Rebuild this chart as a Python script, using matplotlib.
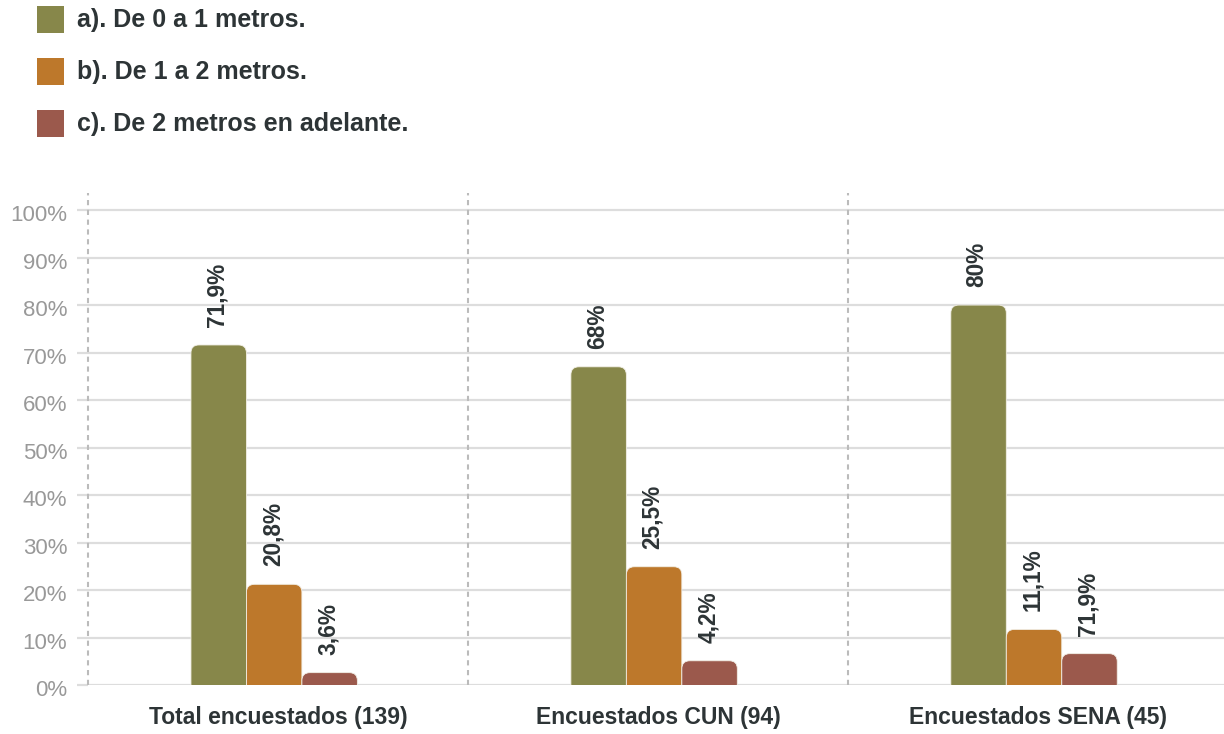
import matplotlib
matplotlib.use('Agg')
import matplotlib.pyplot as plt
from matplotlib.patches import FancyBboxPatch, Rectangle
import matplotlib.transforms as mtransforms
import numpy as np

# ---------------- data ----------------
categories = ['Total encuestados (139)', 'Encuestados CUN (94)', 'Encuestados SENA (45)']
series_names = ['a). De 0 a 1 metros.', 'b). De 1 a 2 metros.', 'c). De 2 metros en adelante.']
series_a = [71.6, 67.0, 80.0]
series_b = [21.2, 24.9, 11.7]
series_c = [2.6, 5.1, 6.6]
labels_a = ['71,9%', '68%', '80%']
labels_b = ['20,8%', '25,5%', '11,1%']
labels_c = ['3,6%', '4,2%', '71,9%']
ytick_values = [0, 10, 20, 30, 40, 50, 60, 70, 80, 90, 100]
ytick_labels = ['0%', '10%', '20%', '30%', '40%', '50%', '60%', '70%', '80%', '90%', '100%']

colors = ['#87874A', '#BD782B', '#9B594C']
text_dark = '#2D3436'
grid_color = '#DDDDDD'

plt.rcParams['font.family'] = ['Liberation Sans', 'DejaVu Sans']

W, H = 1224, 734
fig = plt.figure(figsize=(W / 100, H / 100), dpi=100)
ax = fig.add_axes([88 / W, 49 / H, (W - 88) / W, 492 / H])

x = np.arange(len(categories))
bw = 0.146
ax.set_xlim(-0.5, 2.49)
ax.set_ylim(0, 103.6)

# rounding sizes (8 px) in data units
rx = 8 / 380
ry = 8 / 4.75

series = [series_a, series_b, series_c]
labels = [labels_a, labels_b, labels_c]
for i, (vals, labs) in enumerate(zip(series, labels)):
    bars = ax.bar(x + (i - 1) * bw - 0.01, vals, width=bw, color=colors[i])
    for rect, lab in zip(bars, labs):
        bx, bwid, bh = rect.get_x(), rect.get_width(), rect.get_height()
        rect.set_visible(False)
        p = FancyBboxPatch((bx, -ry), bwid, bh + ry,
                           boxstyle=f"round,pad=0,rounding_size={rx}",
                           mutation_aspect=ry / rx,
                           facecolor=colors[i], edgecolor='#F2EFE6',
                           linewidth=0.6, zorder=3)
        ax.add_patch(p)
        ax.annotate(lab, (bx + bwid / 2, bh), xytext=(-1, 13),
                    textcoords='offset points', rotation=90,
                    ha='center', va='bottom', fontsize=16.3,
                    fontweight='bold', color=text_dark, zorder=4)

# grid / axes styling
ax.set_yticks(ytick_values)
ax.set_yticklabels(ytick_labels)
ax.yaxis.grid(True, color=grid_color, linewidth=1.6, zorder=0)
ax.set_axisbelow(True)
ax.tick_params(axis='y', length=8, width=1.6, color=grid_color, pad=7,
               labelsize=16, labelcolor='#999999')
offset = mtransforms.ScaledTranslation(0, -3 / 100, fig.dpi_scale_trans)
for lbl in ax.get_yticklabels():
    lbl.set_transform(lbl.get_transform() + offset)
ax.set_xticks(x)
ax.set_xticklabels(categories, fontsize=16.5, fontweight='bold', color=text_dark)
ax.tick_params(axis='x', length=0, pad=15)
for s in ax.spines.values():
    s.set_visible(False)

for xb in [-0.5, 0.5, 1.5]:
    ax.axvline(xb, color='#BBBBBB', linewidth=1.5, linestyle=(0, (2.5, 2.2)),
               zorder=1, clip_on=False)

# legend (manual)
for i, name in enumerate(series_names):
    top = 6 + i * 52
    fig.patches.append(Rectangle((37 / W, (H - top - 27) / H), 27 / W, 27 / H,
                                 transform=fig.transFigure, facecolor=colors[i],
                                 edgecolor='none'))
    fig.text(77 / W, (H - top - 14) / H, name, fontsize=18, fontweight='bold',
             color=text_dark, va='center', ha='left')

fig.savefig('out.png', dpi=100, facecolor='white')
